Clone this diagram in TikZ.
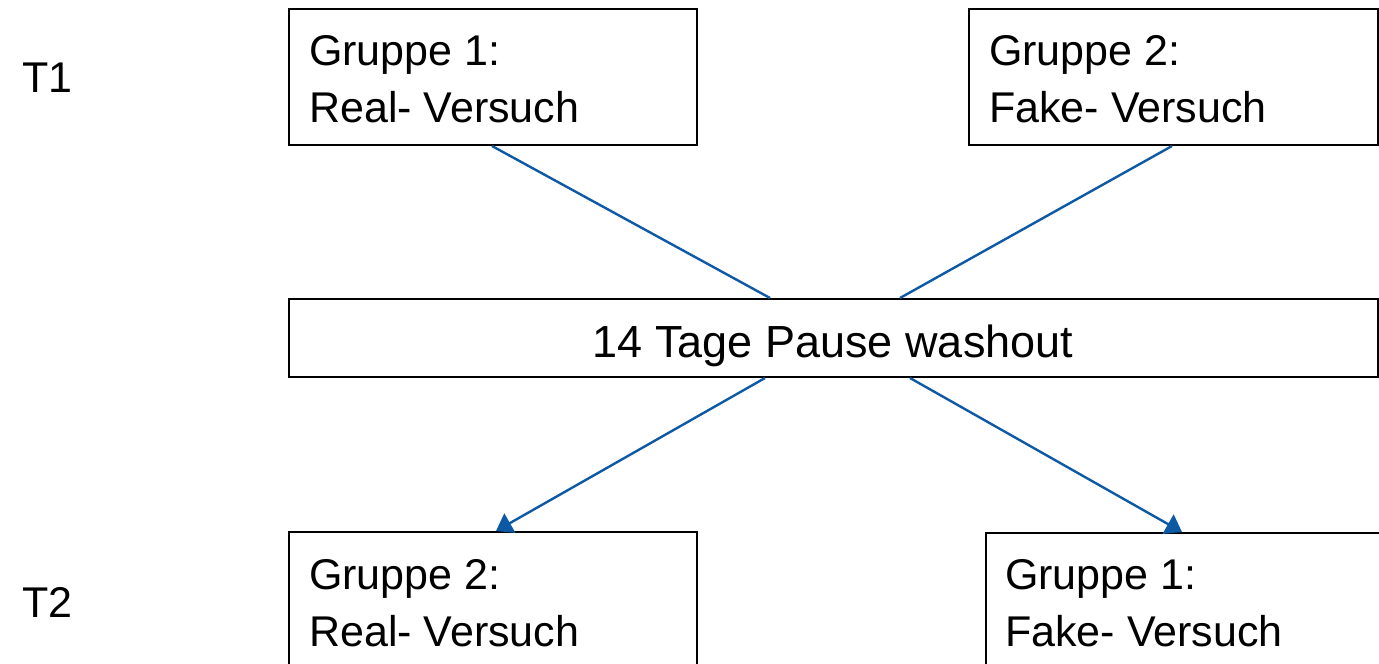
\documentclass[tikz,border=0pt]{standalone}
\usepackage{fontspec}
\setmainfont{Liberation Sans}
\usetikzlibrary{calc,arrows.meta}
\begin{document}
\begin{tikzpicture}[x=1pt,y=-1pt,
  box/.style={draw=black,line width=2pt,anchor=north west,inner sep=0pt,minimum height=136pt},
  link/.style={draw={rgb,255:red,14;green,89;blue,165},line width=2.4pt},
  arr/.style={link,-{Triangle[width=22pt,length=16pt]}},
  lab/.style={anchor=base west,inner sep=0pt,font=\fontsize{43}{57}\selectfont}]
\useasboundingbox (0,0) rectangle (1379,664);
\clip (0,0) rectangle (1379,664);
\node[lab] (t1) at (22,92) {T1};
\node[lab] (t2) at (22,617) {T2};
\node[box,minimum width=408pt] (a) at (288,8) {};
\node[lab] (at) at (309,65) {\begin{tabular}[t]{@{}l@{}}Gruppe 1:\\Real- Versuch\end{tabular}};
\node[box,minimum width=409pt] (b) at (968,8) {};
\node[lab] (bt) at (989,65) {\begin{tabular}[t]{@{}l@{}}Gruppe 2:\\Fake- Versuch\end{tabular}};
\node[box,minimum width=1089pt,minimum height=78pt] (m) at (288,298) {};
\node[lab,anchor=base,font=\fontsize{45}{57}\selectfont] (mt) at (833,357) {14 Tage Pause washout};
\node[box,minimum width=408pt] (c) at (288,531) {};
\node[lab] (ct) at (309,589) {\begin{tabular}[t]{@{}l@{}}Gruppe 2:\\Real- Versuch\end{tabular}};
\node[box,minimum width=400pt] (d) at (985,532) {};
\node[lab] (dt) at (1005,589) {\begin{tabular}[t]{@{}l@{}}Gruppe 1:\\Fake- Versuch\end{tabular}};
\draw[link] ($(a.south west)+(204,0)$) -- ($(m.north west)+(482,0)$);
\draw[link] ($(b.south west)+(204,0)$) -- ($(m.north west)+(612,0)$);
\draw[arr] ($(m.south west)+(477,0)$) -- ($(c.north west)+(208,0)$);
\draw[arr] ($(m.south west)+(622,0)$) -- ($(d.north west)+(197,0)$);
\end{tikzpicture}
\end{document}
